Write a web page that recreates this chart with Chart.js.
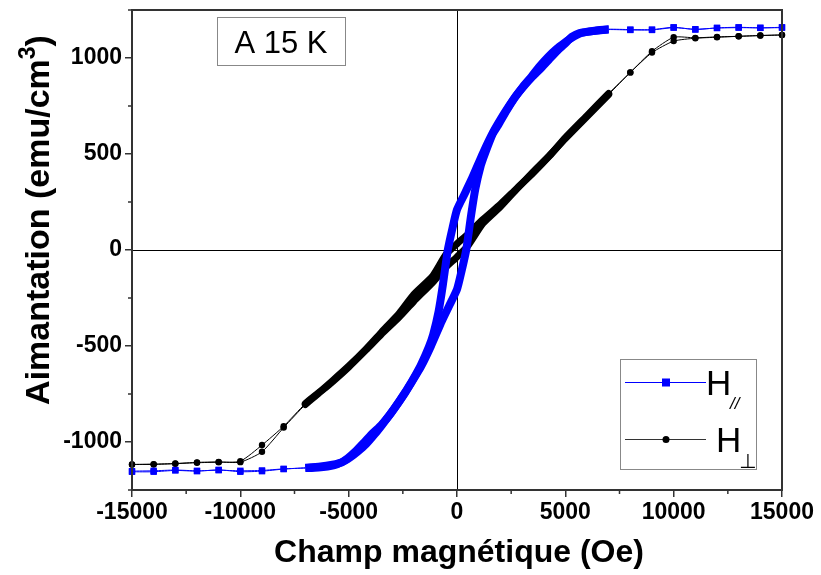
<!DOCTYPE html>
<html>
<head>
<meta charset="utf-8">
<script src="https://cdn.jsdelivr.net/npm/chart.js@4.4.1/dist/chart.umd.min.js"></script>
<style>
  html, body { margin: 0; padding: 0; background: #fff; }
  #wrap { width: 821px; height: 575px; }
</style>
</head>
<body>
<div id="wrap"><canvas id="hysteresisChart" width="821" height="575"></canvas></div>
<script>
// Cycles d'aimantation a 15 K (H parallele / H perpendiculaire)

// H// : branche descendante (+15000 -> -15000)
const paraDownH = [15000, 14000, 13000, 12000, 11000, 10000, 9000, 8000,
    7000, 6400, 5650, 5300, 5050, 4650, 4270, 3900, 3500, 3100, 2700, 2400, 2100, 1650, 1200, 700, 350, 0,
    -200, -425, -650, -850, -1100, -1300, -1650, -1900, -2300, -2650, -3050, -3450, -3800, -4200, -4600,
    -4950, -5300, -5750, -6300, -7000,
    -8000, -9000, -10000, -11000, -12000, -13000, -14000, -15000];
const paraDownM = [1160, 1157, 1160, 1157, 1148, 1160, 1148, 1148,
    1150, 1143, 1130, 1110, 1082, 1040, 995, 950, 905, 855, 800, 750, 697, 610, 505, 375, 292, 210,
    118, 0, -180, -320, -440, -505, -595, -648, -725, -785, -850, -910, -960, -1012, -1052,
    -1082, -1105, -1118, -1128, -1134,
    -1141, -1152, -1155, -1145, -1152, -1148, -1155, -1155];

// H// : branche montante (-15000 -> +15000)
const paraUpH = [-15000, -14000, -13000, -12000, -11000, -10000, -9000, -8000,
    -7000, -6400, -5650, -5300, -5050, -4650, -4270, -3900, -3500, -3100, -2700, -2400, -2100, -1650, -1200, -700, -350, 0,
    200, 425, 650, 850, 1100, 1300, 1650, 1900, 2300, 2650, 3050, 3450, 3800, 4200, 4600,
    4950, 5300, 5750, 6300, 7000,
    8000, 9000, 10000, 11000, 12000, 13000, 14000, 15000];
const paraUpM = [-1152, -1150, -1146, -1150, -1147, -1150, -1148, -1140,
    -1136, -1133, -1120, -1104, -1085, -1045, -1000, -955, -912, -858, -795, -745, -690, -605, -500, -370, -288, -205,
    -115, 0, 180, 320, 440, 505, 605, 650, 728, 790, 852, 905, 955, 1005, 1048,
    1078, 1105, 1130, 1140, 1148,
    1146, 1146, 1158, 1150, 1156, 1158, 1157, 1158];

// H perpendiculaire : branche descendante
const perpDownH = [15000, 14000, 13000, 12000, 11000, 10000, 9000, 8000,
    7000, 6000, 5000, 4270, 3500, 2735, 2000, 1190, 500, 0, -500, -1118, -2000, -2655, -3500, -4194,
    -5000, -5737, -6400, -7000,
    -8000, -9000, -10000, -11000, -12000, -13000, -14000, -15000];
const perpDownM = [1120, 1117, 1113, 1110, 1105, 1108, 1035, 925,
    815, 700, 585, 490, 400, 318, 238, 158, 82, 32, -22, -135, -232, -328, -430, -515,
    -605, -680, -745, -800,
    -918, -1016, -1100, -1105, -1108, -1113, -1117, -1117];

// H perpendiculaire : branche montante
const perpUpH = [-15000, -14000, -13000, -12000, -11000, -10000, -9000, -8000,
    -7000, -6400, -5737, -5000, -4194, -3500, -2655, -2000, -1118, -500, 0, 500, 1190, 2000, 2735,
    3500, 4270, 5000, 6000, 7000,
    8000, 9000, 10000, 11000, 12000, 13000, 14000, 15000];
const perpUpM = [-1117, -1115, -1112, -1106, -1104, -1105, -1051, -925,
    -805, -748, -685, -610, -520, -440, -348, -268, -168, -88, -36, 22, 138, 225, 315,
    405, 492, 580, 695, 810,
    925, 1028, 1088, 1103, 1108, 1113, 1117, 1120];

// Axes
const xTicks = [-15000, -10000, -5000, 0, 5000, 10000, 15000];
const xMinorTicks = [-12500, -7500, -2500, 2500, 7500, 12500];
const yTicks = [-1000, -500, 0, 500, 1000];
const yMinorTicks = [-1250, -750, -250, 250, 750, 1250];

const DENSE_LIMIT = 7000; // au-dela : mesures espacees de 1000 Oe
const BLUE = '#0000ff';
const FONT = '"Liberation Sans", Arial, sans-serif';

function toPoints(hs, ms) {
    return hs.map((h, i) => ({ x: h, y: ms[i] }));
}

function segWidth(thick) {
    return ctx => (Math.abs(ctx.p0.parsed.x) <= DENSE_LIMIT && Math.abs(ctx.p1.parsed.x) <= DENSE_LIMIT) ? thick : 1;
}

function sparseRadius(r) {
    return ctx => {
        const p = ctx.raw;
        return p && Math.abs(p.x) > DENSE_LIMIT ? r : 0;
    };
}

const decorPlugin = {
    id: 'decor',
    beforeDatasetsDraw(chart) {
        const { ctx, chartArea: a, scales: { x, y } } = chart;
        const x0 = Math.round(x.getPixelForValue(0)) + 0.5;
        const y0 = Math.round(y.getPixelForValue(0)) + 0.5;
        ctx.save();
        ctx.strokeStyle = '#000';
        ctx.lineWidth = 1;
        ctx.beginPath();
        ctx.moveTo(x0, a.top); ctx.lineTo(x0, a.bottom);
        ctx.moveTo(a.left, y0); ctx.lineTo(a.right, y0);
        ctx.stroke();
        ctx.restore();
    },
    afterDraw(chart) {
        const { ctx, chartArea: a, scales: { x, y } } = chart;
        ctx.save();

        // cadre
        ctx.strokeStyle = '#333';
        ctx.lineWidth = 2;
        ctx.strokeRect(a.left, a.top, a.right - a.left, a.bottom - a.top);

        // petites graduations
        ctx.lineWidth = 1.5;
        ctx.beginPath();
        xMinorTicks.forEach(v => {
            const px = x.getPixelForValue(v);
            ctx.moveTo(px, a.bottom); ctx.lineTo(px, a.bottom + 4);
        });
        yMinorTicks.forEach(v => {
            const py = y.getPixelForValue(v);
            ctx.moveTo(a.left, py); ctx.lineTo(a.left - 4, py);
        });
        ctx.stroke();

        // titres des axes
        ctx.fillStyle = '#000';
        ctx.font = 'bold 32px ' + FONT;
        ctx.textAlign = 'center';
        ctx.textBaseline = 'alphabetic';
        ctx.fillText('Champ magnétique (Oe)', (a.left + a.right) / 2 + 2, 562);

        ctx.save();
        ctx.translate(49, 220);
        ctx.rotate(-Math.PI / 2);
        const main = 'Aimantation (emu/cm';
        ctx.font = 'bold 34px ' + FONT;
        const w1 = ctx.measureText(main).width;
        const w3 = ctx.measureText(')').width;
        ctx.font = 'bold 23px ' + FONT;
        const w2 = ctx.measureText('3').width;
        const sx = -(w1 + w2 + w3) / 2;
        ctx.textAlign = 'left';
        ctx.font = 'bold 34px ' + FONT;
        ctx.fillText(main, sx, 0);
        ctx.font = 'bold 23px ' + FONT;
        ctx.fillText('3', sx + w1, -14);
        ctx.font = 'bold 34px ' + FONT;
        ctx.fillText(')', sx + w1 + w2, 0);
        ctx.restore();

        // etiquette temperature
        ctx.strokeStyle = '#888';
        ctx.lineWidth = 1;
        ctx.fillStyle = '#fff';
        ctx.fillRect(217.5, 17.5, 128, 48);
        ctx.strokeRect(217.5, 17.5, 128, 48);
        ctx.fillStyle = '#000';
        ctx.font = '31px ' + FONT;
        ctx.textAlign = 'center';
        ctx.fillText('A 15 K', 281, 53);

        // legende
        ctx.fillStyle = '#fff';
        ctx.fillRect(620.5, 359.5, 136, 110);
        ctx.strokeRect(620.5, 359.5, 136, 110);

        ctx.strokeStyle = BLUE;
        ctx.beginPath(); ctx.moveTo(625, 382.5); ctx.lineTo(706, 382.5); ctx.stroke();
        ctx.fillStyle = BLUE;
        ctx.fillRect(662, 378.5, 8, 8);

        ctx.strokeStyle = '#333';
        ctx.beginPath(); ctx.moveTo(625, 439.5); ctx.lineTo(706, 439.5); ctx.stroke();
        ctx.fillStyle = '#000';
        ctx.beginPath(); ctx.arc(666, 439.5, 3.5, 0, Math.PI * 2); ctx.fill();

        ctx.textAlign = 'left';
        ctx.font = '35px ' + FONT;
        ctx.fillText('H', 706, 395);
        ctx.fillText('H', 716, 452);
        ctx.font = 'italic 17px ' + FONT;
        ctx.fillText('//', 730, 409);
        ctx.font = '20px "DejaVu Sans", sans-serif';
        ctx.fillText('⊥', 739, 468);

        ctx.restore();
    }
};

const tickFont = { family: FONT, size: 23, weight: 'bold' };

new Chart(document.getElementById('hysteresisChart'), {
    type: 'line',
    data: {
        datasets: [
            {
                label: 'H//',
                data: toPoints(paraDownH, paraDownM).concat(toPoints(paraUpH, paraUpM)),
                borderColor: BLUE,
                backgroundColor: BLUE,
                borderWidth: 1,
                borderJoinStyle: 'round',
                pointStyle: 'rect',
                pointRadius: sparseRadius(4.5),
                pointBorderWidth: 0,
                segment: { borderWidth: segWidth(8) },
                tension: 0.2,
                clip: false
            },
            {
                label: 'H⊥',
                data: toPoints(perpDownH, perpDownM).concat(toPoints(perpUpH, perpUpM)),
                borderColor: '#000',
                backgroundColor: '#000',
                borderWidth: 1,
                borderJoinStyle: 'round',
                borderCapStyle: 'round',
                pointStyle: 'circle',
                pointRadius: sparseRadius(3.2),
                pointBorderWidth: 0,
                segment: { borderWidth: segWidth(7) },
                tension: 0.2,
                clip: false
            }
        ]
    },
    options: {
        responsive: false,
        animation: false,
        devicePixelRatio: 1,
        events: [],
        layout: { padding: { top: 10, right: 39, left: 0, bottom: 0 } },
        plugins: {
            legend: { display: false },
            tooltip: { enabled: false }
        },
        scales: {
            x: {
                type: 'linear',
                min: -15000,
                max: 15000,
                afterBuildTicks: s => { s.ticks = xTicks.map(v => ({ value: v })); },
                afterFit: s => { s.height = 85; s.paddingLeft = 0; s.paddingRight = 0; },
                ticks: { color: '#000', font: tickFont, padding: 2, maxRotation: 0, autoSkip: false, callback: v => String(v) },
                grid: { drawOnChartArea: false, drawTicks: true, tickLength: 7, color: '#333', lineWidth: 1.5 },
                border: { display: true, color: '#333', width: 2 }
            },
            y: {
                type: 'linear',
                min: -1250,
                max: 1250,
                afterBuildTicks: s => { s.ticks = yTicks.map(v => ({ value: v })); },
                afterFit: s => { s.width = 132; s.paddingTop = 0; s.paddingBottom = 0; },
                ticks: { color: '#000', font: tickFont, padding: 3, autoSkip: false, callback: v => String(v) },
                grid: { drawOnChartArea: false, drawTicks: true, tickLength: 7, color: '#333', lineWidth: 1.5 },
                border: { display: true, color: '#333', width: 2 }
            }
        }
    },
    plugins: [decorPlugin]
});
</script>
</body>
</html>
